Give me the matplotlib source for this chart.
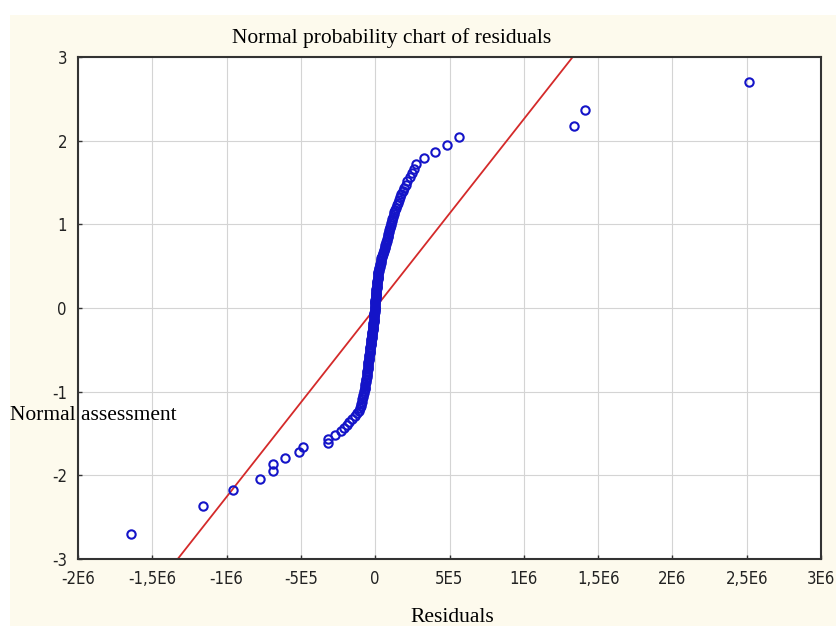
import matplotlib
matplotlib.use("Agg")
import matplotlib.pyplot as plt
from matplotlib.patches import Rectangle
from matplotlib import font_manager
from statistics import NormalDist

# Residuals (sorted ascending)
residuals = [
    -1640e3, -1157e3, -955e3, -775e3, -690e3, -690e3, -607e3, -511e3, -484e3, -320e3,
    -320e3, -271e3, -232e3, -210e3, -190e3, -176e3, -155e3, -135e3, -122e3, -110e3,
    -104e3, -98e3, -94e3, -90e3, -86e3, -83e3, -80e3, -77e3, -74e3, -72e3,
    -70e3, -68e3, -66e3, -64e3, -62e3, -60e3, -58e3, -57e3, -55e3, -54e3,
    -52e3, -51e3, -50e3, -49e3, -48e3, -47e3, -46e3, -45e3, -44e3, -42e3,
    -40e3, -39e3, -38e3, -37e3, -36e3, -35e3, -33e3, -32e3, -31e3, -29e3,
    -28e3, -27e3, -26e3, -25e3, -24e3, -23e3, -22e3, -21e3, -20e3, -19e3,
    -18e3, -17e3, -16e3, -15e3, -14e3, -13e3, -12e3, -11e3, -10e3, -9e3,
    -8e3, -8e3, -7e3, -6e3, -6e3, -5e3, -4e3, -4e3, -3e3, -2e3,
    -1e3, 0, 0, 1e3, 1e3, 2e3, 2e3, 3e3, 3e3, 4e3,
    5e3, 5e3, 6e3, 7e3, 7e3, 8e3, 9e3, 10e3, 11e3, 12e3,
    13e3, 14e3, 15e3, 16e3, 17e3, 18e3, 19e3, 20e3, 21e3, 22e3,
    24e3, 26e3, 28e3, 30e3, 32e3, 34e3, 36e3, 38e3, 40e3, 42e3,
    45e3, 48e3, 51e3, 54e3, 57e3, 60e3, 63e3, 66e3, 69e3, 72e3,
    75e3, 77e3, 80e3, 83e3, 85e3, 88e3, 91e3, 94e3, 97e3, 100e3,
    103e3, 107e3, 111e3, 115e3, 119e3, 124e3, 129e3, 134e3, 140e3, 146e3,
    151e3, 158e3, 165e3, 172e3, 185e3, 195e3, 207e3, 217e3, 231e3, 248e3,
    261e3, 275e3, 328e3, 402e3, 483e3, 564e3, 1338e3, 1412e3, 2515e3,
]
# Reference normal line parameters
line_mean = 0.0
line_sd = 4.43e5

x_ticks = [-2e6, -1.5e6, -1e6, -5e5, 0, 5e5, 1e6, 1.5e6, 2e6, 2.5e6, 3e6]
x_labels = ["-2E6", "-1,5E6", "-1E6", "-5E5", "0", "5E5", "1E6", "1,5E6", "2E6", "2,5E6", "3E6"]
y_ticks = [-3, -2, -1, 0, 1, 2, 3]
y_labels = ["-3", "-2", "-1", "0", "1", "2", "3"]

title = "Normal probability chart of residuals"
x_title = "Residuals"
y_title = "Normal assessment"

# Normal scores (Blom) from ranks
n = len(residuals)
nd = NormalDist()
scores = [nd.inv_cdf((i + 1 - 0.375) / (n + 0.25)) for i in range(n)]

# pick a condensed sans font if one is installed
tick_kw = dict(fontfamily=["Liberation Sans", "DejaVu Sans"], fontsize=11)
names = {(f.name, f.stretch) for f in font_manager.fontManager.ttflist}
if any(nm == "Liberation Sans Narrow" for nm, _ in names):
    tick_kw = dict(fontfamily=["Liberation Sans Narrow", "DejaVu Sans"], fontsize=12.5)
elif any(nm == "DejaVu Sans" and st == "condensed" for nm, st in names):
    tick_kw = dict(fontfamily=["DejaVu Sans"], fontstretch="condensed", fontsize=12)

W, H = 836, 626
fig = plt.figure(figsize=(W / 100, H / 100), dpi=100)
fig.patch.set_facecolor("white")
fig.patches.append(Rectangle((10 / W, 0), 1, 1 - 15 / H, transform=fig.transFigure,
                             facecolor="#fdfaed", edgecolor="none", zorder=-10))

ax = fig.add_axes([78 / W, 1 - 559 / H, 743 / W, 502 / H])
ax.set_facecolor("white")
ax.set_xlim(-2e6, 3e6)
ax.set_ylim(-3, 3)

ax.grid(True, color="#d4d4d4", linewidth=0.8)
ax.set_axisbelow(True)

zline = [-3.5, 3.5]
ax.plot([line_mean + z * line_sd for z in zline], zline, color="#d42a2a", linewidth=1.3, zorder=2)
ax.plot(residuals, scores, linestyle="none", marker="o", markersize=6,
        markerfacecolor="none", markeredgecolor="#1414c8", markeredgewidth=1.5, zorder=3)

ax.set_xticks(x_ticks)
ax.set_xticklabels(x_labels, **tick_kw)
ax.set_yticks(y_ticks)
ax.set_yticklabels(y_labels, **tick_kw)
ax.tick_params(direction="in", length=3, width=1, color="#333333", pad=8, labelcolor="#222222")
for s in ax.spines.values():
    s.set_linewidth(1.5)
    s.set_color("#333333")

serif = ["Liberation Serif", "DejaVu Serif"]
fig.text(392 / W, 1 - 38 / H, title, ha="center", va="center", fontfamily=serif, fontsize=15.5)
fig.text(452 / W, 1 - 617 / H, x_title, ha="center", va="center", fontfamily=serif, fontsize=15.5)
fig.text(10 / W, 1 - 415 / H, y_title, ha="left", va="center", fontfamily=serif, fontsize=15.5, zorder=10)

fig.savefig("out.png", dpi=100)
